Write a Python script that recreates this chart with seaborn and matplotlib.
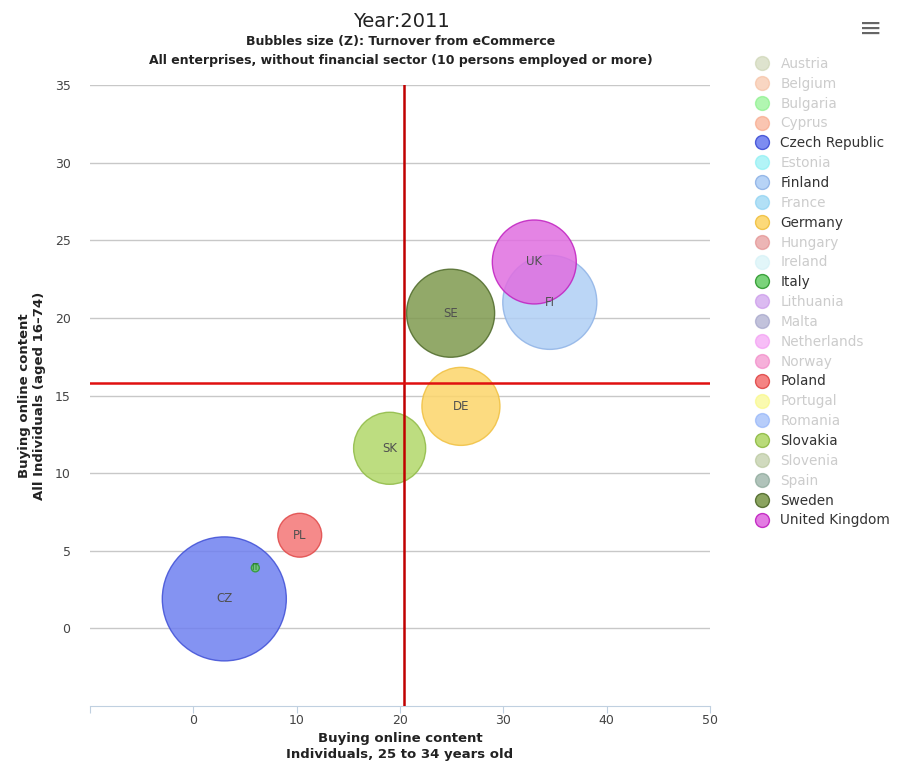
import pandas as pd
import seaborn as sns
import matplotlib.pyplot as plt
from matplotlib.lines import Line2D

# Bubble data (only the countries that are switched on in the legend)
countries = ["Czech Republic", "Italy", "Poland", "Slovakia", "Germany", "Sweden", "Finland", "United Kingdom"]
codes = ["CZ", "IT", "PL", "SK", "DE", "SE", "FI", "UK"]
x_25_34 = [3.0, 6.0, 10.3, 19.0, 25.9, 24.9, 34.5, 33.0]
y_all = [1.9, 3.9, 6.0, 11.6, 14.3, 20.3, 21.0, 23.6]
turnover = [24.0, 0.1, 3.0, 8.1, 9.5, 12.1, 13.8, 11.0]

# Reference lines (averages)
x_avg = 20.4
y_avg = 15.8

# Legend entries: all countries, visible or not
legend_names = ["Austria", "Belgium", "Bulgaria", "Cyprus", "Czech Republic", "Estonia",
                "Finland", "France", "Germany", "Hungary", "Ireland", "Italy", "Lithuania",
                "Malta", "Netherlands", "Norway", "Poland", "Portugal", "Romania",
                "Slovakia", "Slovenia", "Spain", "Sweden", "United Kingdom"]
legend_colors = ["#c9d1ae", "#f5bb9a", "#7ef07e", "#f79f7e", "#6f80f0", "#80eef2",
                 "#b0cff5", "#80ccf0", "#fcd56a", "#e08484", "#d0f0f6", "#6dcf6d", "#c48ce8",
                 "#9a9ac4", "#f292f2", "#f07cc2", "#f47676", "#f8f87a", "#88acf8",
                 "#b2d86a", "#b2c294", "#7c9c8c", "#7f9a4f", "#e06ee0"]
edge_colors = {"Czech Republic": "#3f4fd6", "Italy": "#2f9a2f", "Poland": "#e04848",
               "Slovakia": "#8fba45", "Germany": "#f0c040", "Sweden": "#4f6a2a",
               "Finland": "#8fb3e6", "United Kingdom": "#c020c0"}
active = set(countries)

df = pd.DataFrame({"country": countries, "code": codes, "x": x_25_34,
                   "y": y_all, "z": turnover})
palette = dict(zip(legend_names, legend_colors))

fig = plt.figure(figsize=(8.98, 7.67), dpi=100)
ax = fig.add_axes([0.1002, 0.0795, 0.6904, 0.8097])

# Bubble area proportional to turnover
smax = 7974
sns.scatterplot(data=df, x="x", y="y", hue="country", palette=palette, size="z",
                sizes=(0, smax), size_norm=(0, max(turnover)), alpha=0.85,
                legend=False, ax=ax, zorder=3)
coll = ax.collections[0]
coll.set_edgecolor([edge_colors[c] for c in df["country"]])
coll.set_linewidth(1.0)

for _, r in df.iterrows():
    if r["code"] == "IT":
        ax.text(r["x"], r["y"], r["code"], ha="center", va="center", fontsize=6,
                color="#2a7a2a", zorder=5)
    else:
        ax.text(r["x"], r["y"], r["code"], ha="center", va="center", fontsize=8.5,
                color="#505050", zorder=5)

ax.axvline(x_avg, color="#c00000", lw=1.8, zorder=4)
ax.axhline(y_avg, color="#e01010", lw=1.8, zorder=4)

ax.set_xlim(-10, 50)
ax.set_ylim(-5, 35)
ax.set_xticks(range(-10, 51, 10))
ax.set_xticklabels([""] + [str(v) for v in range(0, 51, 10)], fontsize=9, color="#444444")
ax.set_yticks(range(0, 36, 5))
ax.set_yticklabels([str(v) for v in range(0, 36, 5)], fontsize=9, color="#444444")
ax.tick_params(axis="y", length=0, pad=14)
ax.tick_params(axis="x", length=5, color="#c0d0e0", pad=1)
ax.grid(axis="y", color="#c8c8c8", lw=1, zorder=0)
ax.grid(axis="x", visible=False)
for side in ["top", "right", "left"]:
    ax.spines[side].set_visible(False)
ax.spines["bottom"].set_color("#c0d0e0")

ax.set_xlabel("Buying online content\nIndividuals, 25 to 34 years old",
              fontsize=9.5, fontweight="bold", color="#222222", labelpad=3,
              linespacing=1.35)
ax.set_ylabel("Buying online content\nAll Individuals (aged 16\u201374)",
              fontsize=9.5, fontweight="bold", color="#222222", labelpad=6)

fig.text(0.4465, 0.972, "Year:2011", ha="center", va="center", fontsize=14, color="#222222")
fig.text(0.4465, 0.946, "Bubbles size (Z): Turnover from eCommerce", ha="center",
         va="center", fontsize=9, fontweight="bold", color="#222222")
fig.text(0.4465, 0.921, "All enterprises, without financial sector (10 persons employed or more)",
         ha="center", va="center", fontsize=9, fontweight="bold", color="#222222")
fig.text(0.97, 0.962, "\u2261", ha="center", va="center", fontsize=20, color="#666666")

# Legend
handles = []
for name, col in zip(legend_names, legend_colors):
    on = name in active
    handles.append(Line2D([], [], marker="o", ls="", markersize=10,
                          markerfacecolor=col, alpha=0.9 if on else 0.6,
                          markeredgecolor=edge_colors.get(name, col) if on else col,
                          label=name))
leg = fig.legend(handles=handles, loc="upper left", bbox_to_anchor=(0.835, 0.933),
                 frameon=False, fontsize=9.8, handletextpad=0.85, labelspacing=0.43,
                 borderaxespad=0, handlelength=1.0)
for txt in leg.get_texts():
    txt.set_color("#333333" if txt.get_text() in active else "#cccccc")

fig.savefig("out.png", dpi=100)
